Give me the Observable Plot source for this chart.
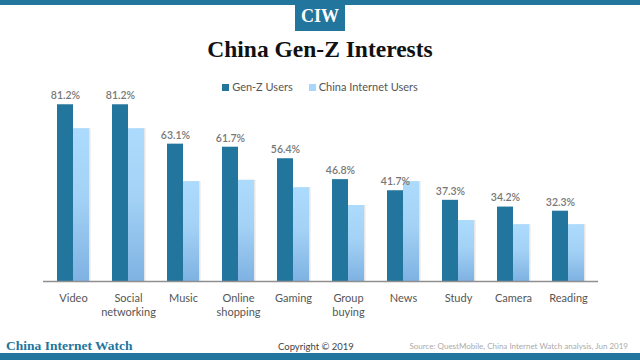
<!DOCTYPE html>
<html>
<head>
<meta charset="utf-8">
<script src="https://cdn.jsdelivr.net/npm/d3@7"></script>
<script src="https://cdn.jsdelivr.net/npm/@observablehq/plot@0.6"></script>
<style>
  html, body { margin: 0; padding: 0; background: #fff; }
  #page { position: relative; width: 640px; height: 360px; overflow: hidden; font-family: Lato, "Open Sans", sans-serif; }
  .abs { position: absolute; }
  #topband { left: 0; top: 0; width: 640px; height: 5px; background: #22759c; }
  #badge { left: 295px; top: 0; width: 50px; height: 31px; background: #22759c; color: #fff;
    font: bold 18px "Liberation Serif", serif; text-align: center; line-height: 33px; }
  #title { left: 0; width: 640px; top: 36px; text-align: center; font: bold 23.5px "Liberation Serif", serif; color: #111; }
  #legend { left: 0; width: 640px; top: 80px; text-align: center; font-size: 11px; color: #555; }
  #legend span.item { display: inline-block; margin: 0 8px; }
  #legend span.sw { display: inline-block; width: 7px; height: 7px; margin-right: 3px; vertical-align: 0px; }
  #chart { left: 0; top: 85px; }
  #brand { left: 6px; top: 338px; font: bold 13.5px "Liberation Serif", serif; color: #22759c; }
  #copy { left: 278px; top: 341px; font-size: 9.5px; color: #444; }
  #source { right: 12px; top: 341px; font-size: 8px; color: #aaa; }
  #botband { left: 0; top: 353px; width: 640px; height: 7px; background: #22759c; }
</style>
</head>
<body>
<div id="page">
  <div class="abs" id="topband"></div>
  <div class="abs" id="badge">CIW</div>
  <div class="abs" id="title">China Gen-Z Interests</div>
  <div class="abs" id="legend"></div>
  <div class="abs" id="chart"></div>
  <div class="abs" id="brand">China Internet Watch</div>
  <div class="abs" id="copy">Copyright © 2019</div>
  <div class="abs" id="source">Source: QuestMobile, China Internet Watch analysis, Jun 2019</div>
  <div class="abs" id="botband"></div>
</div>
<script>
const categories = ["Video", "Social\nnetworking", "Music", "Online\nshopping", "Gaming", "Group\nbuying", "News", "Study", "Camera", "Reading"];
const genZ = [81.2, 81.2, 63.1, 61.7, 56.4, 46.8, 41.7, 37.3, 34.2, 32.3];
const chinaUsers = [70.2, 70.2, 45.9, 46.5, 43.1, 34.9, 45.9, 28.0, 26.1, 26.1];
const seriesNames = ["Gen-Z Users", "China Internet Users"];
const seriesColors = ["#22759c", "#a9d7fb"];

const rows = categories.map((c, i) => ({category: c, genZ: genZ[i], china: chinaUsers[i]}));

// legend
const legend = document.getElementById("legend");
seriesNames.forEach((name, i) => {
  const item = document.createElement("span");
  item.className = "item";
  item.innerHTML = `<span class="sw" style="background:${seriesColors[i]}"></span>${name}`;
  legend.appendChild(item);
});

const defs = () => {
  const ns = "http://www.w3.org/2000/svg";
  const d = document.createElementNS(ns, "defs");
  d.innerHTML = `<linearGradient id="lightGrad" x1="0" y1="0" x2="0" y2="1">
      <stop offset="0%" stop-color="#acdbfd"/>
      <stop offset="45%" stop-color="#a4d2f6"/>
      <stop offset="100%" stop-color="#7eb2e2"/>
    </linearGradient>`;
  return d;
};

const chart = Plot.plot({
  width: 640,
  height: 245,
  marginTop: 11,
  marginBottom: 49,
  marginLeft: 43,
  marginRight: 42,
  style: {fontFamily: "Lato, sans-serif", fontSize: "11px", background: "transparent", overflow: "visible"},
  x: {domain: categories, paddingInner: 0.712, paddingOuter: 0.356, label: null},
  y: {domain: [0, 85], axis: null},
  marks: [
    defs,
    Plot.barY(rows, {x: "category", y: "china", dx: 9.5, fill: "#e6e6e6"}),
    Plot.barY(rows, {x: "category", y: "china", dx: 8, fill: "url(#lightGrad)"}),
    Plot.barY(rows, {x: "category", y: "genZ", dx: -8, fill: seriesColors[0]}),
    Plot.text(rows, {x: "category", y: "genZ", dx: -8, dy: -9, text: d => d.genZ.toFixed(1) + "%",
      fill: "#777", fontSize: 10.5, fontWeight: 600}),
    Plot.ruleY([0], {stroke: "#8f8f8f", strokeWidth: 1.3}),
    Plot.axisX({tickSize: 0, tickPadding: 10, label: null, color: "#555", fontSize: 11, lineHeight: 1.3, textAnchor: "middle", lineAnchor: "top"})
  ]
});
document.getElementById("chart").appendChild(chart);
</script>
</body>
</html>
